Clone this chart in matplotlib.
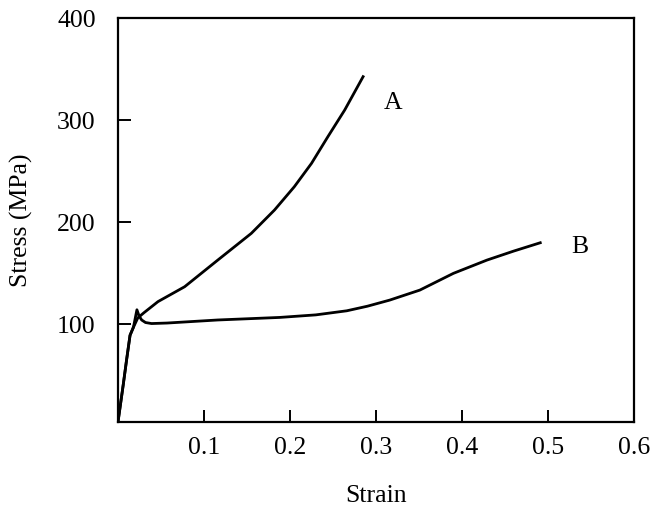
import numpy as np
import matplotlib
matplotlib.use("Agg")
import matplotlib.pyplot as plt

# curve A
strain_a = [0.0, 0.006, 0.010, 0.014, 0.018, 0.023, 0.030, 0.0465, 0.0775,
            0.116, 0.155, 0.182, 0.205, 0.225, 0.244, 0.2636, 0.285]
stress_a = [4, 40, 65, 89, 97, 106, 111, 122, 136.6,
            162.7, 188.9, 211.8, 234.6, 257.5, 283.6, 309.8, 342.5]

# curve B
strain_b = [0.0, 0.006, 0.010, 0.014, 0.018, 0.022, 0.0245, 0.0275, 0.032, 0.039,
            0.057, 0.116, 0.188, 0.230, 0.266, 0.290, 0.316, 0.351, 0.390,
            0.429, 0.460, 0.491]
stress_b = [4, 40, 65, 89, 97, 114, 108, 104, 101.5, 100.5,
            101, 104, 106.5, 109, 113, 117.5, 123.5, 133.3, 149.7,
            162.7, 171.5, 179.7]

labels = ["A", "B"]
label_pos = [(0.32, 317), (0.537, 176)]

x_ticks = [0.1, 0.2, 0.3, 0.4, 0.5, 0.6]
y_ticks = [100, 200, 300, 400]

plt.rcParams["font.family"] = ["Liberation Serif", "DejaVu Serif"]

fig = plt.figure(figsize=(6.51, 5.07), dpi=100)
ax = fig.add_axes([118/651, 1 - 422/507, 516/651, 404/507])

ax.plot(strain_a, stress_a, color="black", lw=2.0, solid_joinstyle="round")
ax.plot(strain_b, stress_b, color="black", lw=2.0, solid_joinstyle="round")

for lab, (lx, ly) in zip(labels, label_pos):
    ax.text(lx, ly, lab, fontsize=18.5, ha="center", va="center")

ax.set_xlim(0, 0.6)
ax.set_ylim(4, 400)
ax.set_xticks(x_ticks)
ax.set_yticks(y_ticks)
ax.set_xticklabels([f"{t:.1f}" for t in x_ticks])
ax.set_yticklabels([str(t) for t in y_ticks])

for s in ax.spines.values():
    s.set_linewidth(1.6)

ax.tick_params(direction="in", length=9, width=1.4, labelsize=18.5)
ax.tick_params(axis="x", pad=11)
ax.tick_params(axis="y", pad=16)

ax.set_xlabel("Strain", fontsize=18.5)
ax.set_ylabel("Stress (MPa)", fontsize=18.5)
ax.xaxis.set_label_coords(0.5, -0.155)
ax.yaxis.set_label_coords(-0.165, 0.5)

fig.savefig("out.png", dpi=100)
